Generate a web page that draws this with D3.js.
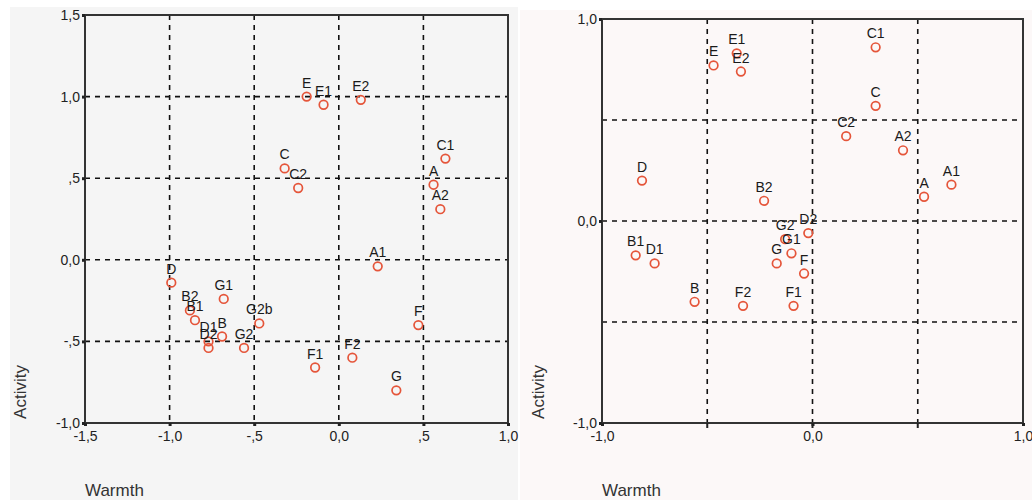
<!DOCTYPE html>
<html>
<head>
<meta charset="utf-8">
<script src="https://cdn.jsdelivr.net/npm/d3@7"></script>
<style>
  body { margin: 0; background: #fff; }
  svg { display: block; font-family: "Liberation Sans", Arial, sans-serif; }
</style>
</head>
<body>
<svg id="chart" width="1032" height="500"></svg>
<script>
// left panel data
var leftNames = ['E', 'E1', 'E2', 'C', 'C2', 'C1', 'A', 'A2', 'A1', 'D', 'G1', 'B2', 'B1', 'B', 'D1', 'D2', 'G2b', 'G2', 'F1', 'F2', 'G', 'F'];
var leftWarmth = [-0.19, -0.09, 0.13, -0.32, -0.24, 0.63, 0.56, 0.60, 0.23, -0.99, -0.68, -0.88, -0.85, -0.69, -0.77, -0.77, -0.47, -0.56, -0.14, 0.08, 0.34, 0.47];
var leftActivity = [1.00, 0.95, 0.98, 0.56, 0.44, 0.62, 0.46, 0.31, -0.04, -0.14, -0.24, -0.31, -0.37, -0.47, -0.50, -0.54, -0.39, -0.54, -0.66, -0.60, -0.80, -0.40];

// right panel data
var rightNames = ['E', 'E1', 'E2', 'C1', 'C', 'C2', 'A2', 'A1', 'A', 'D', 'B2', 'D2', 'G2', 'G1', 'G', 'F', 'B1', 'D1', 'B', 'F2', 'F1'];
var rightWarmth = [-0.47, -0.36, -0.34, 0.30, 0.30, 0.16, 0.43, 0.66, 0.53, -0.81, -0.23, -0.02, -0.13, -0.10, -0.17, -0.04, -0.84, -0.75, -0.56, -0.33, -0.09];
var rightActivity = [0.77, 0.83, 0.74, 0.86, 0.57, 0.42, 0.35, 0.18, 0.12, 0.20, 0.10, -0.06, -0.09, -0.16, -0.21, -0.26, -0.17, -0.21, -0.40, -0.42, -0.42];

// ticks and grid
var leftXTicks = [-1.5, -1.0, -0.5, 0.0, 0.5, 1.0];
var leftXTickLabels = ['-1,5', '-1,0', '-,5', '0,0', ',5', '1,0'];
var leftYTicks = [1.5, 1.0, 0.5, 0.0, -0.5, -1.0];
var leftYTickLabels = ['1,5', '1,0', ',5', '0,0', '-,5', '-1,0'];
var leftGridX = [-1.0, -0.5, 0.0, 0.5];
var leftGridY = [1.0, 0.5, 0.0, -0.5];

var rightXTicks = [-1.0, 0.0, 1.0];
var rightXTickLabels = ['-1,0', '0,0', '1,0'];
var rightXMinor = [-0.5, 0.0, 0.5];
var rightYTicks = [1.0, 0.0, -1.0];
var rightYTickLabels = ['1,0', '0,0', '-1,0'];
var rightGridX = [-0.5, 0.0, 0.5];
var rightGridY = [0.5, 0.0, -0.5];

var svg = d3.select('#chart');

function drawPanel(cfg) {
  var g = svg.append('g');

  g.append('rect')
    .attr('x', cfg.bg[0]).attr('y', cfg.bg[1])
    .attr('width', cfg.bg[2]).attr('height', cfg.bg[3])
    .attr('fill', cfg.bgColor);

  var x = d3.scaleLinear().domain(cfg.xDomain).range([cfg.left, cfg.right]);
  var y = d3.scaleLinear().domain(cfg.yDomain).range([cfg.bottom, cfg.top]);

  // dashed grid
  g.selectAll('.gx').data(cfg.gridX).enter().append('line')
    .attr('x1', function(d){ return x(d); }).attr('x2', function(d){ return x(d); })
    .attr('y1', cfg.top).attr('y2', cfg.bottom)
    .attr('stroke', '#111').attr('stroke-width', 1.6).attr('stroke-dasharray', '5,5');
  g.selectAll('.gy').data(cfg.gridY).enter().append('line')
    .attr('y1', function(d){ return y(d); }).attr('y2', function(d){ return y(d); })
    .attr('x1', cfg.left).attr('x2', cfg.right)
    .attr('stroke', '#111').attr('stroke-width', 1.6).attr('stroke-dasharray', '5,5');

  // frame
  g.append('rect')
    .attr('x', cfg.left).attr('y', cfg.top)
    .attr('width', cfg.right - cfg.left).attr('height', cfg.bottom - cfg.top)
    .attr('fill', 'none').attr('stroke', '#333').attr('stroke-width', 2);

  // y ticks
  var yAxis = d3.axisLeft(y).tickValues(cfg.yTicks).tickSize(3)
    .tickFormat(function(d, i){ return cfg.yLabels[i]; });
  var ya = g.append('g').attr('transform', 'translate(' + cfg.left + ',0)').call(yAxis);
  ya.select('.domain').remove();
  ya.selectAll('line').attr('stroke', '#222').attr('stroke-width', 3);
  ya.selectAll('text').attr('font-size', 14).attr('fill', '#222')
    .attr('font-family', '"Liberation Sans", Arial, sans-serif').attr('x', -5);

  // x ticks
  var xAxis = d3.axisBottom(x).tickValues(cfg.xTicks).tickSize(3)
    .tickFormat(function(d, i){ return cfg.xLabels[i]; });
  var xa = g.append('g').attr('transform', 'translate(0,' + cfg.bottom + ')').call(xAxis);
  xa.select('.domain').remove();
  xa.selectAll('line').attr('stroke', '#222').attr('stroke-width', 3);
  xa.selectAll('text').attr('font-size', 14).attr('fill', '#222')
    .attr('font-family', '"Liberation Sans", Arial, sans-serif').attr('y', 8);

  if (cfg.xMinor) {
    g.selectAll('.mx').data(cfg.xMinor).enter().append('line')
      .attr('x1', function(d){ return x(d); }).attr('x2', function(d){ return x(d); })
      .attr('y1', cfg.bottom).attr('y2', cfg.bottom + 5)
      .attr('stroke', '#222').attr('stroke-width', 2);
  }

  // points
  g.selectAll('circle.pt').data(cfg.names).enter().append('circle')
    .attr('class', 'pt')
    .attr('cx', function(d, i){ return x(cfg.xs[i]); })
    .attr('cy', function(d, i){ return y(cfg.ys[i]); })
    .attr('r', 4.3)
    .attr('fill', 'none')
    .attr('stroke', '#e5553a')
    .attr('stroke-width', 1.7);

  g.selectAll('text.lbl').data(cfg.names).enter().append('text')
    .attr('class', 'lbl')
    .attr('x', function(d, i){ return x(cfg.xs[i]); })
    .attr('y', function(d, i){ return y(cfg.ys[i]) - 9; })
    .attr('text-anchor', 'middle')
    .attr('font-size', 14)
    .attr('fill', '#1a1a1a')
    .text(function(d){ return d; });

  // axis titles
  g.append('text')
    .attr('transform', 'translate(' + cfg.yTitleX + ',392) rotate(-90)')
    .attr('text-anchor', 'middle')
    .attr('font-size', 17).attr('fill', '#333')
    .text('Activity');
  g.append('text')
    .attr('x', cfg.left).attr('y', 496)
    .attr('font-size', 17).attr('fill', '#333')
    .text('Warmth');
}

drawPanel({
  bg: [10, 7, 508, 493], bgColor: '#f5f5f5',
  left: 85, right: 508, top: 15, bottom: 423,
  xDomain: [-1.5, 1.0], yDomain: [-1.0, 1.5],
  gridX: leftGridX, gridY: leftGridY,
  xTicks: leftXTicks, xLabels: leftXTickLabels,
  yTicks: leftYTicks, yLabels: leftYTickLabels,
  names: leftNames, xs: leftWarmth, ys: leftActivity,
  yTitleX: 26
});

drawPanel({
  bg: [520, 10, 512, 490], bgColor: '#fcf8f8',
  left: 602, right: 1023, top: 19, bottom: 423,
  xDomain: [-1.0, 1.0], yDomain: [-1.0, 1.0],
  gridX: rightGridX, gridY: rightGridY,
  xTicks: rightXTicks, xLabels: rightXTickLabels, xMinor: rightXMinor,
  yTicks: rightYTicks, yLabels: rightYTickLabels,
  names: rightNames, xs: rightWarmth, ys: rightActivity,
  yTitleX: 544
});
</script>
</body>
</html>
